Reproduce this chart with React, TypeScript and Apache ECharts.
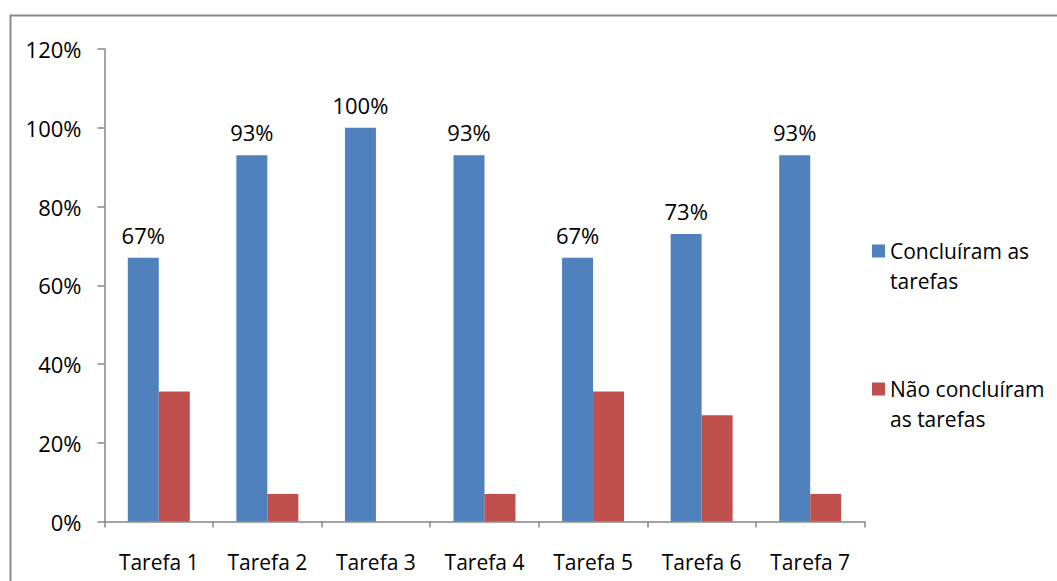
import React, { useEffect, useRef } from "react";
import * as echarts from "echarts";

const categories = ["Tarefa 1", "Tarefa 2", "Tarefa 3", "Tarefa 4", "Tarefa 5", "Tarefa 6", "Tarefa 7"];
const concluiram = [67, 93, 100, 93, 67, 73, 93];
const naoConcluiram = [33, 7, 0, 7, 33, 27, 7];
const seriesNames = ["Concluíram as tarefas", "Não concluíram as tarefas"];
const legendLabels: Record<string, string> = {
  "Concluíram as tarefas": "Concluíram as\ntarefas",
  "Não concluíram as tarefas": "Não concluíram\nas tarefas",
};

const FONT = "Open Sans";
// square at the top of a taller icon box, so it lines up with the first text line
const LEGEND_ICON = "path://M0,0H13V13H0Z M0,43H0.001V43.001H0Z";

export default function App() {
  const ref = useRef<HTMLDivElement>(null);
  useEffect(() => {
    if (!ref.current) return;
    const chart = echarts.init(ref.current, null, { renderer: "svg" });
    chart.setOption({
      animation: false,
      backgroundColor: "#ffffff",
      textStyle: { fontFamily: FONT },
      graphic: [
        {
          type: "rect",
          shape: { x: 10.5, y: 15.5, width: 1100, height: 620 },
          style: { fill: "none", stroke: "#8a8a8a", lineWidth: 2 },
          z: -10,
        },
      ],
      grid: { left: 104.5, right: 192.5, top: 49, bottom: 59.5 },
      legend: {
        orient: "vertical",
        left: 867,
        top: 231,
        itemWidth: 13,
        itemHeight: 43,
        itemGap: 78,
        icon: LEGEND_ICON,
        data: seriesNames,
        formatter: (n: string) => legendLabels[n] || n,
        textStyle: {
          fontFamily: FONT,
          fontSize: 21,
          lineHeight: 30,
          color: "#000",
        },
      },
      xAxis: {
        type: "category",
        data: categories,
        axisLine: { lineStyle: { color: "#868686", width: 1.5 } },
        axisTick: { show: true, length: 6, lineStyle: { color: "#868686", width: 1.5 } },
        axisLabel: { interval: 0, color: "#000", fontSize: 21, fontFamily: FONT, margin: 30 },
      },
      yAxis: {
        type: "value",
        min: 0,
        max: 120,
        interval: 20,
        axisLine: { show: true, lineStyle: { color: "#868686", width: 1.5 } },
        axisTick: { show: true, length: 7, lineStyle: { color: "#868686", width: 1.5 } },
        splitLine: { show: false },
        axisLabel: {
          color: "#000",
          fontSize: 22,
          fontFamily: FONT,
          margin: 23,
          formatter: (v: number) => `${v}%`,
        },
      },
      series: [
        {
          name: seriesNames[0],
          type: "bar",
          data: concluiram,
          barWidth: 31,
          barGap: "0%",
          itemStyle: { color: "#4F81BD" },
          label: {
            show: true,
            position: "top",
            distance: 12,
            color: "#000",
            fontSize: 22,
            fontFamily: FONT,
            formatter: (p: any) => `${p.value}%`,
          },
        },
        {
          name: seriesNames[1],
          type: "bar",
          data: naoConcluiram,
          barWidth: 31,
          barGap: "0%",
          itemStyle: { color: "#C0504D" },
        },
      ],
    });
    return () => chart.dispose();
  }, []);
  return (
    <div
      ref={ref}
      style={{ position: "fixed", left: 0, top: 0, width: 1057, height: 581 }}
    />
  );
}
